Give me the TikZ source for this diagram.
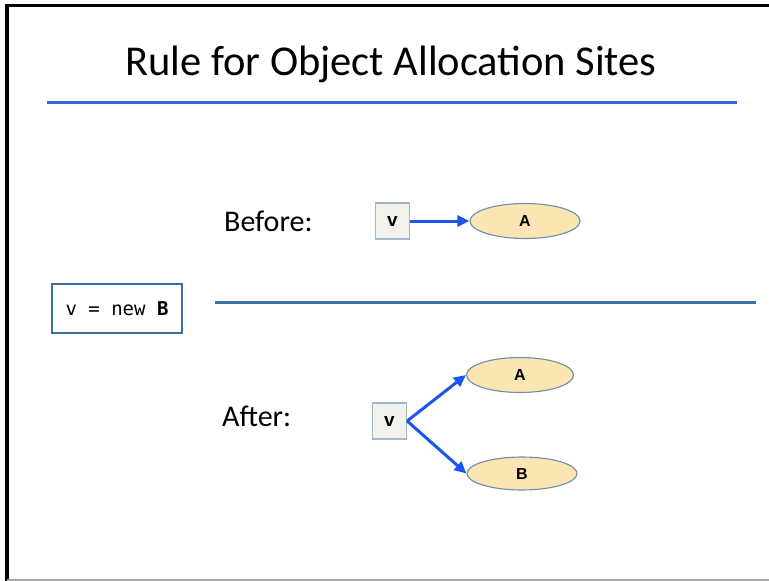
\documentclass[tikz,border=0pt]{standalone}
\usepackage{fontspec}
\setmainfont{Carlito}
\newfontfamily\labelfont{Liberation Sans}
\setmonofont{DejaVu Sans Mono}
\usetikzlibrary{arrows.meta,shapes.geometric}
\definecolor{rulecol}{HTML}{2F6BE0}
\definecolor{sepcol}{HTML}{3E72A2}
\definecolor{arrcol}{HTML}{1A55F2}
\definecolor{varfill}{HTML}{F2F1EB}
\definecolor{varedge}{HTML}{9FB7CC}
\definecolor{objfill}{HTML}{FBE5B2}
\definecolor{objedge}{HTML}{6D8DAA}
\definecolor{codeedge}{HTML}{3E6E9C}
\tikzset{
  varbox/.style={draw=varedge, fill=varfill, line width=1.3pt, minimum width=34pt,
    minimum height=36pt, inner sep=0pt, font=\labelfont\bfseries\fontsize{19}{19}\selectfont},
  objnode/.style={ellipse, draw=objedge, fill=objfill, line width=1.1pt, minimum width=110pt,
    minimum height=35pt, inner sep=0pt, font=\labelfont\bfseries\fontsize{16}{16}\selectfont},
  ptr/.style={draw=arrcol, line width=3pt, -{Triangle[length=12pt,width=11pt]}},
  phase/.style={anchor=west, inner sep=0pt, font=\fontsize{30}{30}\selectfont},
}
\begin{document}
\begin{tikzpicture}[x=1pt, y=-1pt]
  \useasboundingbox (0,0) rectangle (769,581);
  \fill[white] (0,0) rectangle (769,581);
  % slide frame
  \draw[black, line width=3.5pt] (7,581) -- (7,5.5) -- (769,5.5);
  \draw[gray!70, line width=1.6pt] (7,580.2) -- (769,580.2);
  % title and its rule
  \node[font=\fontsize{42.5}{42.5}\selectfont, inner sep=0pt] (title) at (391,64) {Rule for Object Allocation Sites};
  \coordinate (r1) at (47,102);
  \coordinate (r2) at (737,102);
  \draw[rulecol, line width=3pt] (r1) -- (r2);
  % statement
  \node[draw=codeedge, line width=1.4pt, minimum width=130pt, minimum height=49pt, inner sep=0pt,
    font=\ttfamily\fontsize{19}{19}\selectfont] (code) at (117,308.5) {v = new \textbf{B}};
  % separator between the two states
  \coordinate (s1) at (215,302.5);
  \coordinate (s2) at (756,302.5);
  \draw[sepcol, line width=3pt] (s1) -- (s2);
  % before
  \node[phase] (before) at (224,221) {Before:};
  \node[varbox] (v1) at (392.5,221) {v};
  \node[objnode] (a1) at (525,221) {A};
  \draw[ptr] (v1.east) -- (a1.west);
  % after
  \node[phase] (after) at (222,416) {After:};
  \node[varbox] (v2) at (389.5,421) {v};
  \node[objnode, minimum width=107pt] (a2) at (520,375) {A};
  \node[objnode, minimum height=33pt] (b2) at (522,473.5) {B};
  \draw[ptr] (v2.east) -- (a2.west);
  \draw[ptr] (v2.east) -- (b2.west);
\end{tikzpicture}
\end{document}
